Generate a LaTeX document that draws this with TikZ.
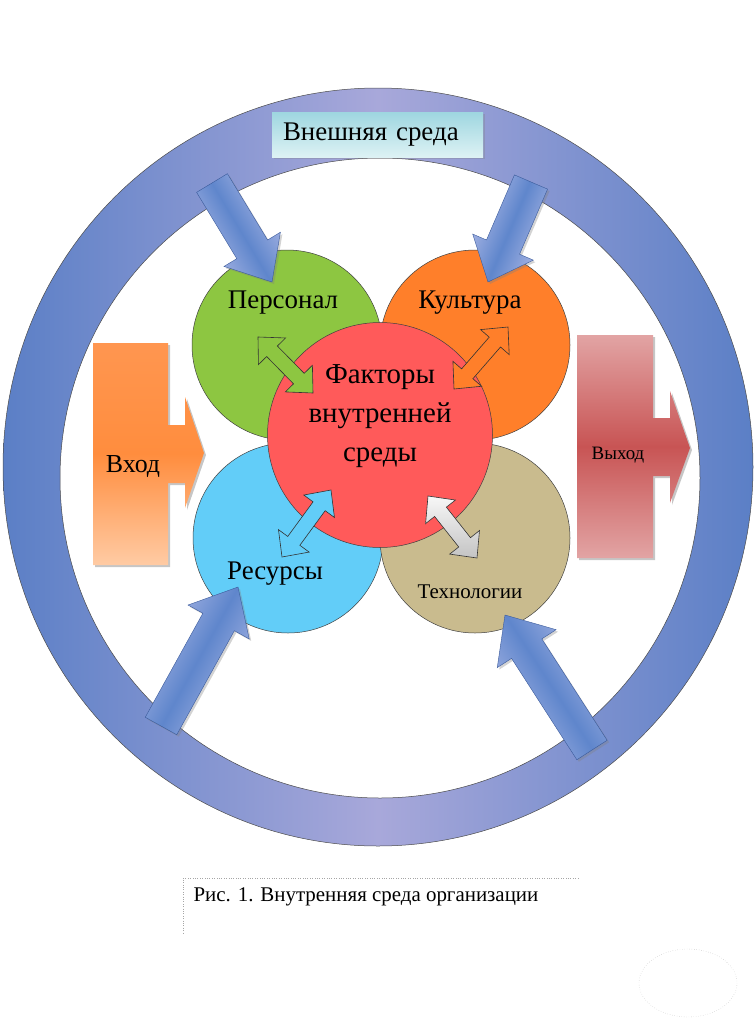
\documentclass[tikz,border=0pt]{standalone}
\usepackage{fontspec}
\setmainfont{Liberation Serif}
\usetikzlibrary{calc,shadows}

\definecolor{ringdark}{HTML}{5B7FC6}
\definecolor{ringlight}{HTML}{A8A8DA}
\definecolor{boxtop}{HTML}{9ED6E0}
\definecolor{boxbot}{HTML}{DDF2F4}
\definecolor{persgreen}{HTML}{8DC641}
\definecolor{cultorange}{HTML}{FF7F2A}
\definecolor{resblue}{HTML}{62CDF8}
\definecolor{techtan}{HTML}{C9BB8E}
\definecolor{factred}{HTML}{FF5A5A}
\definecolor{arrlight}{HTML}{B0BAE6}
\definecolor{arrdark}{HTML}{5F86CC}
\definecolor{arrline}{HTML}{3A5A9A}
\definecolor{inlight}{HTML}{FFCBA4}
\definecolor{inmid}{HTML}{FF8D3E}
\definecolor{intop}{HTML}{FF9650}
\definecolor{outlight}{HTML}{E2A4A4}
\definecolor{outmid}{HTML}{C85454}
\definecolor{techgrey}{HTML}{D9D9D9}

% block arrow: [style]{from}{to}{half shaft}{half head}{head length}
\newcommand{\blockarrow}[6][]{%
  \path[#1] let \p1=(#2), \p2=(#3),
    \n1={atan2(\y2-\y1,\x2-\x1)},
    \n2={veclen(\x2-\x1,\y2-\y1)-#6bp} in
    ($(\p1)+(\n1+90:#4bp)$)
    -- ($(\p1)+(\n1:\n2)+(\n1+90:#4bp)$)
    -- ($(\p1)+(\n1:\n2)+(\n1+90:#5bp)$)
    -- (\p2)
    -- ($(\p1)+(\n1:\n2)+(\n1-90:#5bp)$)
    -- ($(\p1)+(\n1:\n2)+(\n1-90:#4bp)$)
    -- ($(\p1)+(\n1-90:#4bp)$)
    -- cycle;}

% two headed block arrow, same arguments
\newcommand{\dblockarrow}[6][]{%
  \path[#1] let \p1=(#2), \p2=(#3),
    \n1={atan2(\y2-\y1,\x2-\x1)},
    \n2={veclen(\x2-\x1,\y2-\y1)-#6bp} in
    (\p1)
    -- ($(\p1)+(\n1:#6bp)+(\n1+90:#5bp)$)
    -- ($(\p1)+(\n1:#6bp)+(\n1+90:#4bp)$)
    -- ($(\p1)+(\n1:\n2)+(\n1+90:#4bp)$)
    -- ($(\p1)+(\n1:\n2)+(\n1+90:#5bp)$)
    -- (\p2)
    -- ($(\p1)+(\n1:\n2)+(\n1-90:#5bp)$)
    -- ($(\p1)+(\n1:\n2)+(\n1-90:#4bp)$)
    -- ($(\p1)+(\n1:#6bp)+(\n1-90:#4bp)$)
    -- ($(\p1)+(\n1:#6bp)+(\n1-90:#5bp)$)
    -- cycle;}

\begin{document}
\begin{tikzpicture}[x=1bp,y=-1bp,
  sat/.style={circle,draw=black!75,line width=0.5bp,minimum size=190bp,inner sep=0pt},
  lbl/.style={font=\fontsize{27}{30}\selectfont},
  bigarrow/.style={top color=arrlight,bottom color=arrlight,middle color=arrdark,
    draw=arrline,line width=0.4bp,drop shadow={opacity=0.35,shadow xshift=2bp,shadow yshift=-2bp}},
  link/.style={draw=black!80,line width=0.6bp},
  sideshape/.style={line width=0pt,drop shadow={opacity=0.45,shadow xshift=2bp,shadow yshift=-2bp}}]

\useasboundingbox (0,0) rectangle (756,1018);

% ring
\path[even odd rule,left color=ringdark,right color=ringdark,middle color=ringlight,draw=black!70,line width=0.5bp]
  (378,467) ellipse [x radius=375,y radius=379] (380,478) circle [radius=320];

\node[top color=boxtop,bottom color=boxbot,minimum width=211bp,minimum height=45bp,
  text width=189bp,inner xsep=11bp,align=left,font=\fontsize{27}{30}\selectfont,
  drop shadow={opacity=0.3,shadow xshift=2bp,shadow yshift=-2bp}] (ext) at (377.5,134.5) {Внешняя среда};

% factors
\node[sat,fill=persgreen] (pers) at (287,345) {};
\node[sat,fill=cultorange] (cult) at (475,345) {};
\node[sat,fill=resblue] (res) at (288,538) {};
\node[sat,fill=techtan] (tech) at (475,538) {};
\node[circle,draw=black!75,line width=0.5bp,fill=factred,minimum size=225bp,inner sep=0pt] (fact) at (380,435) {};

\coordinate (pers a) at (258,337);
\coordinate (pers b) at (313,393);
\coordinate (cult a) at (508,327);
\coordinate (cult b) at (454,389);
\coordinate (res a) at (282,557);
\coordinate (res b) at (331,490);
\coordinate (tech a) at (477,558);
\coordinate (tech b) at (428,496);
\dblockarrow[link,fill=persgreen]{pers a}{pers b}{7.5}{19}{20}
\dblockarrow[link,fill=cultorange]{cult a}{cult b}{7.5}{19}{20}
\dblockarrow[link,fill=resblue]{res a}{res b}{7.5}{19}{20}
\dblockarrow[link,top color=white!80!techgrey,bottom color=techgrey!90!black]{tech a}{tech b}{7.5}{19}{20}

\node[lbl] (perst) at (283,303) {Персонал};
\node[lbl] (cultt) at (470,303) {Культура};
\node[lbl] (rest) at (275,574) {Ресурсы};
\node[lbl,font=\fontsize{21}{24}\selectfont] (techt) at (470,592) {Технологии};
\node[align=center,font=\fontsize{29}{39}\selectfont] (factt) at (380,416) {Факторы\\внутренней\\среды};

% outer influences
\coordinate (tl tail) at (212,183);
\coordinate (tl tip) at (272,282);
\coordinate (tr tail) at (531,182);
\coordinate (tr tip) at (488,282);
\coordinate (bl tail) at (161,726);
\coordinate (bl tip) at (238,587);
\coordinate (br tail) at (592,750);
\coordinate (br tip) at (505,615);
\blockarrow[bigarrow,shading angle=-59]{tl tail}{tl tip}{18}{33}{38}
\blockarrow[bigarrow,shading angle=-113]{tr tail}{tr tip}{18}{33}{38}
\blockarrow[bigarrow,shading angle=61]{bl tail}{bl tip}{18}{35}{40}
\blockarrow[bigarrow,shading angle=123]{br tail}{br tip}{18}{35}{40}

% input / output
\path[sideshape,top color=intop,bottom color=inlight,middle color=inmid]
  (93,343) -- (168,343) -- (168,425) -- (185,425) -- (185,397) -- (204,453)
  -- (185,508) -- (185,483) -- (168,483) -- (168,565) -- (93,565) -- cycle;
\node[font=\fontsize{26}{30}\selectfont] (in) at (133,467) {Вход};

\path[sideshape,top color=outlight,bottom color=outlight,middle color=outmid]
  (577,335) -- (653,335) -- (653,418) -- (670,418) -- (670,391) -- (690,448)
  -- (670,503) -- (670,476) -- (653,476) -- (653,558) -- (577,558) -- cycle;
\node[font=\fontsize{19}{22}\selectfont] (out) at (618,455) {Выход};

% caption
\draw[dotted,gray!70] (578,878) -- (183,878) -- (183,933);
\node[anchor=west,font=\fontsize{21}{24}\selectfont] (cap) at (190,897) {Рис. 1. Внутренняя среда организации};
\draw[dotted,gray!60] (688,983) ellipse [x radius=49,y radius=34];
\end{tikzpicture}
\end{document}
